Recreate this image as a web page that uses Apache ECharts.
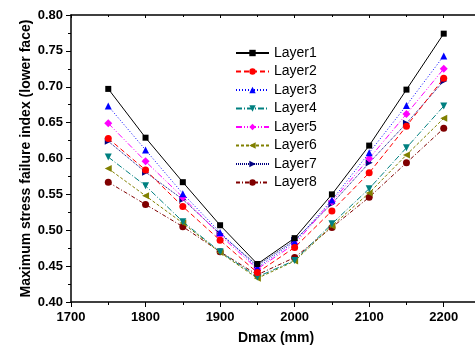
<!DOCTYPE html>
<html>
<head>
<meta charset="utf-8">
<script src="https://cdn.jsdelivr.net/npm/echarts@6/dist/echarts.min.js"></script>
<style>
html,body{margin:0;padding:0;background:#fff;}
#c{width:475px;height:350px;}
</style>
</head>
<body>
<div id="c"></div>
<script>
const dmax = [1750, 1800, 1850, 1900, 1950, 2000, 2050, 2100, 2150, 2200];
const layer1 = [0.697, 0.629, 0.567, 0.507, 0.453, 0.489, 0.550, 0.618, 0.696, 0.774];
const layer2 = [0.628, 0.584, 0.533, 0.486, 0.441, 0.476, 0.527, 0.580, 0.645, 0.712];
const layer3 = [0.673, 0.612, 0.551, 0.497, 0.448, 0.484, 0.542, 0.608, 0.674, 0.743];
const layer4 = [0.602, 0.562, 0.512, 0.470, 0.435, 0.458, 0.509, 0.558, 0.615, 0.673];
const layer5 = [0.649, 0.596, 0.546, 0.493, 0.446, 0.481, 0.540, 0.600, 0.662, 0.725];
const layer6 = [0.586, 0.548, 0.510, 0.469, 0.433, 0.457, 0.506, 0.552, 0.605, 0.656];
const layer7 = [0.624, 0.581, 0.543, 0.495, 0.451, 0.486, 0.537, 0.594, 0.649, 0.708];
const layer8 = [0.567, 0.536, 0.505, 0.470, 0.438, 0.462, 0.504, 0.546, 0.594, 0.642];
const names = ['Layer1','Layer2','Layer3','Layer4','Layer5','Layer6','Layer7','Layer8'];
const values = [layer1, layer2, layer3, layer4, layer5, layer6, layer7, layer8];
const colors = ['#000000','#FF0000','#0000FF','#008080','#FF00FF','#808000','#000080','#800000'];
const symbols = ['rect','circle','triangle','triangle','diamond','triangle','triangle','circle'];
const rotations = [0, 0, 0, 180, 0, 90, -90, 0];
const dashes = ['solid',[5,3],[1,2],[6,2,1,2],[6,2,1,2,1,2],[3,2],[1,1],[4,2,1,2]];
const FONT = 'Arial, "Liberation Sans", sans-serif';

const series = names.map((n, i) => ({
  name: n,
  type: 'line',
  xAxisIndex: 0,
  data: dmax.map((x, k) => [x, values[i][k]]),
  symbol: symbols[i],
  symbolRotate: rotations[i],
  symbolSize: symbols[i] === 'rect' ? 6 : (symbols[i] === 'diamond' ? 8 : 7),
  itemStyle: { color: colors[i] },
  lineStyle: { color: colors[i], width: 1, type: dashes[i] },
  z: 10 - i
}));

const chart = echarts.init(document.getElementById('c'), null, {renderer: 'canvas'});
chart.setOption({
  animation: false,
  backgroundColor: '#fff',
  grid: { left: 71, top: 15, height: 287, width: 410, containLabel: false, outerBoundsMode: 'none' },
  legend: {
    orient: 'vertical',
    left: 235,
    top: 46,
    padding: 0,
    itemWidth: 33,
    itemHeight: 8,
    itemGap: 4.5,
    textStyle: { fontFamily: FONT, fontSize: 14, color: '#000' },
    data: names
  },
  xAxis: [{
    type: 'value',
    min: 1700, max: 2250, interval: 100,
    name: 'Dmax (mm)',
    nameLocation: 'middle',
    nameGap: 29,
    nameMoveOverlap: false,
    nameTextStyle: { fontFamily: FONT, fontSize: 14, fontWeight: 'bold', color: '#000' },
    axisLine: { show: true, onZero: false, lineStyle: { color: '#000', width: 1.5 } },
    axisTick: { show: true, inside: false, length: 5, lineStyle: { color: '#000', width: 1 } },
    minorTick: { show: true, splitNumber: 2, length: 3, lineStyle: { color: '#000', width: 1 } },
    axisLabel: { fontFamily: FONT, fontSize: 13, fontWeight: 'bold', color: '#000', margin: 9,
      showMaxLabel: false, formatter: v => String(v) },
    splitLine: { show: false }
  }, {
    type: 'value', position: 'top',
    min: 1700, max: 2250, interval: 100,
    axisLine: { show: true, onZero: false, lineStyle: { color: '#000', width: 1.5 } },
    axisTick: { show: true, inside: true, length: 3, lineStyle: { color: '#000', width: 1 } },
    minorTick: { show: true, splitNumber: 2, length: 2, lineStyle: { color: '#000', width: 1 } },
    axisLabel: { show: false },
    splitLine: { show: false }
  }],
  yAxis: {
    type: 'value',
    min: 0.40, max: 0.80, interval: 0.05,
    name: 'Maximum stress failure index (lower face)',
    nameLocation: 'middle',
    nameGap: 38,
    nameMoveOverlap: false,
    nameTextStyle: { fontFamily: FONT, fontSize: 14, fontWeight: 'bold', color: '#000' },
    axisLine: { show: true, onZero: false, lineStyle: { color: '#000', width: 1.5 } },
    axisTick: { show: true, inside: false, length: 5, lineStyle: { color: '#000', width: 1 } },
    minorTick: { show: true, splitNumber: 2, length: 3, lineStyle: { color: '#000', width: 1 } },
    axisLabel: { fontFamily: FONT, fontSize: 13, fontWeight: 'bold', color: '#000', margin: 8,
      formatter: v => v.toFixed(2) },
    splitLine: { show: false }
  },
  series: series
});
</script>
</body>
</html>
